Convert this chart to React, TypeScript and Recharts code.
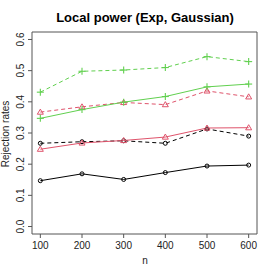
import React from 'react';
import { LineChart, Line, XAxis, YAxis, ReferenceArea } from 'recharts';

const sampleSizes = [100, 200, 300, 400, 500, 600];
const blackSolid = [0.147, 0.169, 0.151, 0.173, 0.194, 0.197];
const blackDashed = [0.267, 0.272, 0.275, 0.267, 0.313, 0.29];
const redSolid = [0.248, 0.268, 0.276, 0.287, 0.316, 0.317];
const redDashed = [0.367, 0.384, 0.398, 0.391, 0.435, 0.416];
const greenSolid = [0.347, 0.375, 0.399, 0.417, 0.448, 0.457];
const greenDashed = [0.431, 0.498, 0.502, 0.51, 0.545, 0.529];
const xTicks = [100, 200, 300, 400, 500, 600];
const yTicks = [0, 0.1, 0.2, 0.3, 0.4, 0.5, 0.6];

const data = sampleSizes.map((n, i) => ({
  n,
  bs: blackSolid[i],
  bd: blackDashed[i],
  rs: redSolid[i],
  rd: redDashed[i],
  gs: greenSolid[i],
  gd: greenDashed[i],
}));

const BLACK = '#000000';
const RED = '#DF536B';
const GREEN = '#61D04F';
const FONT = '"Liberation Sans", Arial, sans-serif';

function CircleDot(props: any) {
  const { cx, cy, stroke } = props;
  if (cx == null || cy == null) return null;
  return <circle cx={cx} cy={cy} r={2} fill="none" stroke={stroke} strokeWidth={1} />;
}

function TriangleDot(props: any) {
  const { cx, cy, stroke } = props;
  if (cx == null || cy == null) return null;
  const h = 3;
  return (
    <polygon
      points={`${cx},${cy - h} ${cx - h},${cy + h * 0.7} ${cx + h},${cy + h * 0.7}`}
      fill="none"
      stroke={stroke}
      strokeWidth={1}
    />
  );
}

function PlusDot(props: any) {
  const { cx, cy, stroke } = props;
  if (cx == null || cy == null) return null;
  const s = 3.5;
  return (
    <g stroke={stroke} strokeWidth={1.1}>
      <line x1={cx - s} y1={cy} x2={cx + s} y2={cy} />
      <line x1={cx} y1={cy - s} x2={cx} y2={cy + s} />
    </g>
  );
}

function XTick(props: any) {
  const { x, payload } = props;
  return (
    <g>
      <line x1={x} y1={234} x2={x} y2={238} stroke="#555" strokeWidth={1} />
      <text x={x} y={249} textAnchor="middle" fontSize={10} fill="#222" fontFamily={FONT}>
        {payload.value}
      </text>
    </g>
  );
}

function YTick(props: any) {
  const { y, payload } = props;
  return (
    <g>
      <line x1={28} y1={y} x2={32} y2={y} stroke="#555" strokeWidth={1} />
      <text
        x={0}
        y={0}
        transform={`translate(24, ${y}) rotate(-90)`}
        textAnchor="middle"
        fontSize={10}
        fill="#222"
        fontFamily={FONT}
      >
        {Number(payload.value).toFixed(1)}
      </text>
    </g>
  );
}

export default function App() {
  return (
    <div style={{ position: 'absolute', left: 0, top: 0, width: 274, height: 274, background: '#fff' }}>
      <LineChart
        width={274}
        height={274}
        data={data}
        margin={{ top: 32, right: 17, bottom: 0, left: 0 }}
      >
        <XAxis
          dataKey="n"
          type="number"
          domain={[80, 620]}
          ticks={xTicks}
          axisLine={false}
          tickLine={false}
          height={40}
          tick={<XTick />}
          allowDataOverflow
        />
        <YAxis
          type="number"
          domain={[-0.024, 0.624]}
          ticks={yTicks}
          axisLine={false}
          tickLine={false}
          width={32}
          tick={<YTick />}
          allowDataOverflow
        />
        <ReferenceArea x1={80} x2={620} y1={-0.024} y2={0.624} fill="none" stroke="#555" strokeWidth={1} ifOverflow="visible" />
        <Line dataKey="bs" stroke={BLACK} strokeWidth={1} dot={<CircleDot />} isAnimationActive={false} />
        <Line dataKey="bd" stroke={BLACK} strokeWidth={1} strokeDasharray="4 3" dot={<CircleDot />} isAnimationActive={false} />
        <Line dataKey="rs" stroke={RED} strokeWidth={1} dot={<TriangleDot />} isAnimationActive={false} />
        <Line dataKey="rd" stroke={RED} strokeWidth={1} strokeDasharray="4 3" dot={<TriangleDot />} isAnimationActive={false} />
        <Line dataKey="gs" stroke={GREEN} strokeWidth={1} dot={<PlusDot />} isAnimationActive={false} />
        <Line dataKey="gd" stroke={GREEN} strokeWidth={1} strokeDasharray="4 3" dot={<PlusDot />} isAnimationActive={false} />
      </LineChart>
      <svg width={274} height={274} style={{ position: 'absolute', left: 0, top: 0, pointerEvents: 'none' }}>
        <text x={145} y={22} textAnchor="middle" fontSize={13} fontWeight="bold" fill="#000" fontFamily={FONT}>
          Local power (Exp, Gaussian)
        </text>
        <text x={145} y={264} textAnchor="middle" fontSize={10} fill="#222" fontFamily={FONT}>
          n
        </text>
        <text
          x={0}
          y={0}
          transform="translate(9, 134) rotate(-90)"
          textAnchor="middle"
          fontSize={10}
          fill="#222"
          fontFamily={FONT}
        >
          Rejection rates
        </text>
      </svg>
    </div>
  );
}
